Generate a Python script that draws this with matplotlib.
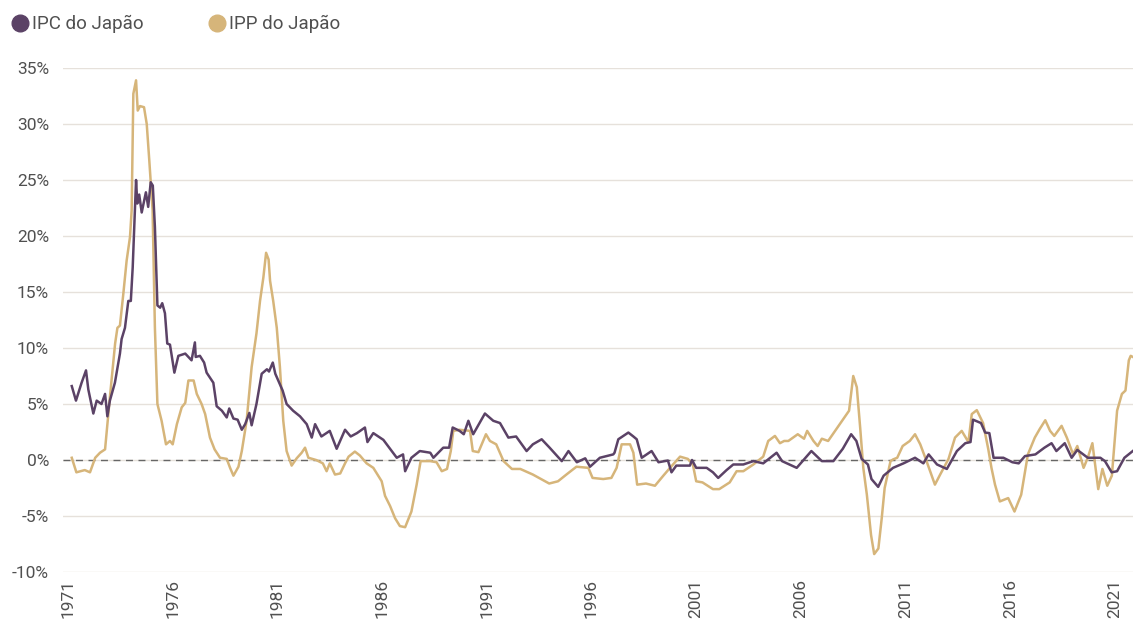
import matplotlib.pyplot as plt
from matplotlib.lines import Line2D
from matplotlib.ticker import FuncFormatter

# IPC do Japão (variação anual, %) - datas em anos decimais
ipc_anos = [1971.18, 1971.38, 1971.65, 1971.86, 1971.97, 1972.21, 1972.37, 1972.6, 1972.77, 1972.88,
            1973.0, 1973.24, 1973.48, 1973.56, 1973.72, 1973.88, 1974.0, 1974.09, 1974.25, 1974.31,
            1974.4, 1974.52, 1974.72, 1974.83, 1974.95, 1975.05, 1975.15, 1975.27, 1975.4, 1975.5,
            1975.63, 1975.74, 1975.87, 1976.08, 1976.27, 1976.6, 1976.9, 1977.06, 1977.1, 1977.3,
            1977.5, 1977.62, 1977.94, 1978.1, 1978.35, 1978.58, 1978.7, 1978.9, 1979.1, 1979.3,
            1979.46, 1979.66, 1979.77, 1980.0, 1980.25, 1980.5, 1980.6, 1980.78, 1980.9, 1981.04,
            1981.25, 1981.44, 1981.75, 1982.08, 1982.4, 1982.64, 1982.8, 1983.1, 1983.5, 1983.83,
            1984.23, 1984.5, 1984.8, 1985.18, 1985.3, 1985.58, 1986.06, 1986.38, 1986.7, 1987.0,
            1987.1, 1987.4, 1987.8, 1988.3, 1988.45, 1988.92, 1989.2, 1989.37, 1989.7, 1989.9,
            1990.12, 1990.35, 1990.91, 1991.31, 1991.63, 1992.03, 1992.4, 1992.9, 1993.2, 1993.62,
            1994.0, 1994.58, 1994.9, 1995.3, 1995.7, 1995.93, 1996.4, 1997.04, 1997.1, 1997.28,
            1997.76, 1998.0, 1998.16, 1998.4, 1998.87, 1999.2, 1999.65, 1999.82, 2000.05, 2000.7,
            2000.8, 2001.0, 2001.5, 2001.8, 2002.05, 2002.45, 2002.77, 2003.25, 2003.73, 2004.2,
            2004.84, 2005.1, 2005.8, 2006.5, 2007.0, 2007.55, 2008.0, 2008.4, 2008.65, 2008.9,
            2009.2, 2009.37, 2009.69, 2009.95, 2010.4, 2010.9, 2011.45, 2011.85, 2012.1, 2012.5,
            2012.97, 2013.45, 2013.85, 2014.1, 2014.22, 2014.6, 2014.8, 2015.0, 2015.2, 2015.67,
            2016.1, 2016.4, 2016.7, 2017.2, 2017.63, 2017.97, 2018.2, 2018.6, 2018.93, 2019.2,
            2019.7, 2020.3, 2020.52, 2020.84, 2021.1, 2021.45, 2021.85]
ipc_valores = [6.6, 5.3, 6.9, 8.0, 6.3, 4.15, 5.3, 5.0, 5.9, 3.9,
               5.3, 6.9, 9.5, 10.8, 11.8, 14.2, 14.2, 17.2, 25.0, 22.9,
               23.7, 22.1, 23.9, 22.6, 24.8, 24.5, 20.8, 13.8, 13.6, 14.0,
               13.1, 10.4, 10.3, 7.8, 9.3, 9.5, 8.9, 10.5, 9.2, 9.3,
               8.7, 7.8, 6.9, 4.8, 4.4, 3.8, 4.6, 3.7, 3.6, 2.7,
               3.2, 4.2, 3.1, 5.0, 7.7, 8.1, 7.9, 8.7, 7.7, 7.1,
               6.2, 5.0, 4.4, 3.9, 3.2, 2.0, 3.2, 2.1, 2.6, 1.0,
               2.7, 2.1, 2.4, 2.9, 1.6, 2.4, 1.8, 1.0, 0.2, 0.5,
               -1.0, 0.2, 0.8, 0.65, 0.2, 1.1, 1.1, 2.9, 2.6, 2.3,
               3.5, 2.3, 4.15, 3.5, 3.3, 2.0, 2.1, 0.8, 1.4, 1.85,
               1.1, -0.1, 0.8, -0.2, 0.15, -0.6, 0.2, 0.5, 0.65, 1.85,
               2.45, 2.1, 1.85, 0.2, 0.8, -0.2, -0.05, -1.1, -0.5, -0.5,
               0.0, -0.7, -0.7, -1.1, -1.6, -0.9, -0.4, -0.4, -0.1, -0.3,
               0.65, -0.1, -0.7, 0.8, -0.1, -0.1, 1.0, 2.3, 1.7, 0.1,
               -0.4, -1.7, -2.4, -1.4, -0.7, -0.3, 0.2, -0.3, 0.5, -0.4,
               -0.8, 0.8, 1.5, 1.6, 3.6, 3.3, 2.45, 2.4, 0.2, 0.2,
               -0.2, -0.3, 0.35, 0.5, 1.1, 1.5, 0.8, 1.5, 0.2, 0.9,
               0.2, 0.2, -0.1, -1.1, -1.0, 0.2, 0.8]

# IPP do Japão (variação anual, %)
ipp_anos = [1971.18, 1971.4, 1971.8, 1972.05, 1972.3, 1972.53, 1972.77, 1973.0, 1973.25, 1973.36,
            1973.48, 1973.64, 1973.8, 1973.96, 1974.04, 1974.12, 1974.25, 1974.33, 1974.44, 1974.63,
            1974.76, 1974.88, 1975.04, 1975.15, 1975.27, 1975.47, 1975.68, 1975.87, 1976.0, 1976.2,
            1976.43, 1976.6, 1976.75, 1977.0, 1977.15, 1977.38, 1977.55, 1977.78, 1978.0, 1978.26,
            1978.58, 1978.74, 1978.9, 1979.14, 1979.3, 1979.53, 1979.77, 1980.0, 1980.17, 1980.33,
            1980.46, 1980.58, 1980.65, 1980.8, 1980.97, 1981.12, 1981.28, 1981.44, 1981.68, 1981.92,
            1982.16, 1982.32, 1982.48, 1982.85, 1983.17, 1983.35, 1983.5, 1983.75, 1984.0, 1984.23,
            1984.4, 1984.7, 1984.94, 1985.26, 1985.58, 1985.98, 1986.14, 1986.38, 1986.62, 1986.85,
            1987.1, 1987.4, 1987.65, 1987.84, 1988.3, 1988.6, 1988.85, 1989.1, 1989.28, 1989.4,
            1989.7, 1990.2, 1990.33, 1990.6, 1990.96, 1991.15, 1991.45, 1991.8, 1992.2, 1992.6,
            1993.2, 1993.98, 1994.4, 1994.8, 1995.28, 1995.85, 1996.05, 1996.56, 1996.95, 1997.2,
            1997.44, 1997.84, 1998.0, 1998.18, 1998.6, 1999.03, 1999.43, 1999.75, 2000.23, 2000.6,
            2000.84, 2001.0, 2001.3, 2001.8, 2002.1, 2002.6, 2002.93, 2003.25, 2003.73, 2004.2,
            2004.44, 2004.76, 2005.0, 2005.2, 2005.4, 2005.85, 2006.15, 2006.3, 2006.6, 2006.8,
            2007.0, 2007.3, 2008.0, 2008.3, 2008.5, 2008.67, 2008.83, 2008.98, 2009.15, 2009.35,
            2009.5, 2009.7, 2009.86, 2010.0, 2010.28, 2010.4, 2010.6, 2010.86, 2011.2, 2011.45,
            2011.7, 2012.0, 2012.4, 2012.65, 2013.05, 2013.36, 2013.68, 2014.0, 2014.16, 2014.4,
            2014.7, 2014.95, 2015.1, 2015.27, 2015.5, 2015.9, 2016.2, 2016.52, 2016.84, 2017.17,
            2017.4, 2017.67, 2017.9, 2018.1, 2018.45, 2018.7, 2019.0, 2019.2, 2019.5, 2019.7,
            2019.92, 2020.2, 2020.4, 2020.63, 2020.85, 2021.1, 2021.33, 2021.5, 2021.66, 2021.75,
            2021.85]
ipp_valores = [0.2, -1.1, -0.9, -1.1, 0.2, 0.65, 0.95, 5.6, 10.4, 11.8,
               12.0, 14.8, 17.8, 19.9, 22.3, 32.7, 33.9, 31.2, 31.6, 31.5,
               30.0, 26.8, 22.3, 11.8, 5.0, 3.5, 1.4, 1.7, 1.4, 3.2,
               4.7, 5.1, 7.1, 7.1, 5.9, 5.0, 4.1, 2.0, 0.95, 0.2,
               0.1, -0.7, -1.4, -0.6, 0.8, 3.5, 8.3, 11.3, 14.2, 16.3,
               18.5, 17.9, 16.0, 14.2, 11.8, 8.3, 3.5, 0.8, -0.5, 0.15,
               0.65, 1.1, 0.2, 0.0, -0.3, -1.0, -0.3, -1.3, -1.2, -0.3,
               0.3, 0.75, 0.4, -0.3, -0.7, -1.9, -3.2, -4.1, -5.2, -5.9,
               -6.0, -4.6, -2.2, -0.1, -0.1, -0.2, -1.0, -0.8, 0.8, 2.6,
               2.7, 2.6, 0.8, 0.7, 2.3, 1.7, 1.4, -0.1, -0.8, -0.8,
               -1.3, -2.1, -1.9, -1.3, -0.6, -0.7, -1.6, -1.7, -1.6, -0.7,
               1.4, 1.4, 0.65, -2.2, -2.1, -2.3, -1.4, -0.7, 0.3, 0.1,
               -0.4, -1.9, -2.0, -2.6, -2.6, -2.0, -1.0, -1.0, -0.4, 0.3,
               1.7, 2.15, 1.5, 1.7, 1.7, 2.3, 1.9, 2.6, 1.7, 1.25,
               1.9, 1.7, 3.6, 4.4, 7.5, 6.5, 2.9, -0.7, -3.1, -6.7,
               -8.4, -7.9, -5.2, -2.5, -0.1, 0.05, 0.2, 1.25, 1.7, 2.3,
               1.4, -0.1, -2.2, -1.3, 0.1, 2.0, 2.6, 1.6, 4.1, 4.45,
               3.3, 0.95, -0.7, -2.2, -3.7, -3.4, -4.6, -3.1, 0.5, 2.0,
               2.75, 3.55, 2.6, 2.15, 3.05, 2.0, 0.5, 1.25, -0.7, 0.2,
               1.5, -2.6, -0.8, -2.3, -1.4, 4.4, 5.9, 6.2, 8.9, 9.3,
               9.2]

cor_ipc = '#5b4266'
cor_ipp = '#d6b57a'
cor_texto = '#505050'

plt.rcParams['font.family'] = ['Roboto', 'DejaVu Sans']

fig = plt.figure(figsize=(11.33, 6.23), dpi=100)
ax = fig.add_axes([63 / 1133, 1 - 572 / 623, 1 - 63 / 1133, (572 - 68) / 623])

ax.plot(ipp_anos, ipp_valores, color=cor_ipp, linewidth=1.8, zorder=3)
ax.plot(ipc_anos, ipc_valores, color=cor_ipc, linewidth=1.8, zorder=4)
ax.axhline(0, color='#666666', linewidth=1, linestyle=(0, (5, 4)), zorder=2)

ax.set_ylim(-10, 35)
ax.set_xlim(1971 - 5 / 20.94, 1971 + (1133 - 68) / 20.94)
ax.set_yticks(range(-10, 40, 5))
ax.yaxis.set_major_formatter(FuncFormatter(lambda v, p: f'{v:.0f}%'))
ax.set_xticks(range(1971, 2022, 5))
ax.set_xticklabels([str(a) for a in range(1971, 2022, 5)], rotation=90)

ax.grid(axis='y', color='#e6e1db', linewidth=1)
ax.set_axisbelow(True)
for lado in ax.spines.values():
    lado.set_visible(False)
ax.tick_params(axis='both', length=0, labelsize=12.5, colors=cor_texto)
ax.tick_params(axis='y', pad=10)
ax.tick_params(axis='x', pad=5)

itens = [Line2D([], [], marker='o', linestyle='', markersize=12, color=cor_ipc, label='IPC do Japão'),
         Line2D([], [], marker='o', linestyle='', markersize=12, color=cor_ipp, label='IPP do Japão')]
fig.legend(handles=itens, loc='upper left', bbox_to_anchor=(-0.004, 1.0), ncol=2, frameon=False,
           fontsize=13.5, handletextpad=0.15, columnspacing=3.4, borderaxespad=0.4,
           labelcolor=cor_texto, handlelength=1.0)

fig.savefig('out.png', dpi=100)
